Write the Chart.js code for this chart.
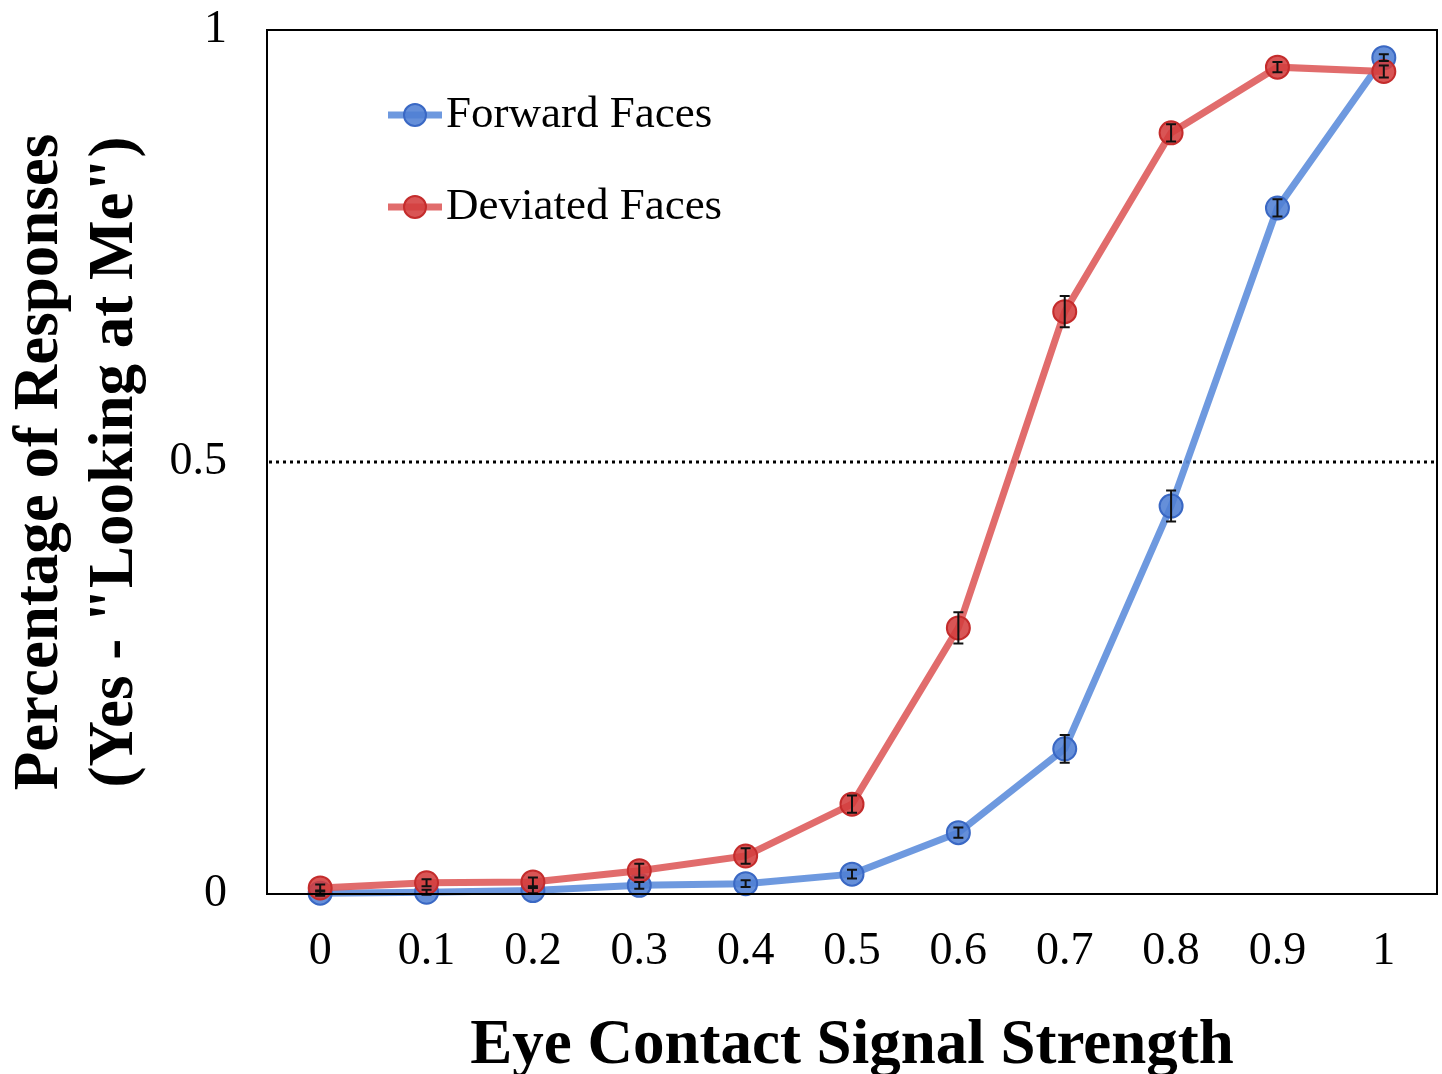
<!DOCTYPE html>
<html>
<head>
<meta charset="utf-8">
<script src="https://cdn.jsdelivr.net/npm/chart.js@4.4.1/dist/chart.umd.min.js"></script>
<style>
  html, body { margin: 0; padding: 0; background: #fff; }
  #wrap { width: 1442px; height: 1074px; }
</style>
</head>
<body>
<div id="wrap"><canvas id="gazeChart" width="1442" height="1074"></canvas></div>
<script>
// Eye contact signal strength levels (x axis)
const strengths = ['0', '0.1', '0.2', '0.3', '0.4', '0.5', '0.6', '0.7', '0.8', '0.9', '1'];

// Proportion of "looking at me" responses
const forwardFaces = [0.001, 0.002, 0.004, 0.010, 0.012, 0.023, 0.071, 0.168, 0.449, 0.794, 0.968];
const deviatedFaces = [0.007, 0.013, 0.014, 0.027, 0.044, 0.104, 0.308, 0.674, 0.881, 0.957, 0.952];

// Standard error for each point
const forwardErr = [0.003, 0.003, 0.003, 0.004, 0.004, 0.005, 0.006, 0.016, 0.018, 0.010, 0.004];
const deviatedErr = [0.004, 0.004, 0.005, 0.008, 0.009, 0.010, 0.018, 0.018, 0.010, 0.006, 0.007];

const yTicks = [0, 0.5, 1];
const threshold = 0.5;

const BLUE_LINE = 'rgba(98, 144, 220, 0.92)';
const BLUE_FILL = 'rgba(80, 128, 212, 0.88)';
const BLUE_EDGE = 'rgb(58, 104, 196)';
const RED_LINE = 'rgba(222, 96, 96, 0.92)';
const RED_FILL = 'rgba(212, 62, 62, 0.88)';
const RED_EDGE = 'rgb(196, 44, 44)';

const serif = '"Liberation Serif", "Times New Roman", serif';

// drop the extra label overflow padding so the plot box sits where the layout says
function noScalePadding(scale) {
    scale.paddingTop = 0;
    scale.paddingBottom = 0;
    scale.paddingLeft = 0;
    scale.paddingRight = 0;
}

// Frame box, dotted 0.5 reference line, error bars and the legend
const extras = {
    id: 'extras',
    beforeDatasetsDraw(chart) {
        const { ctx, chartArea: a, scales: { y } } = chart;
        const yy = Math.round(y.getPixelForValue(threshold));
        ctx.save();
        ctx.fillStyle = '#000';
        for (let px = a.left + 2; px < a.right - 2; px += 7) {
            ctx.fillRect(px, yy - 1.5, 3, 3);
        }
        ctx.restore();
    },
    afterDatasetsDraw(chart) {
        const { ctx, chartArea: a, scales: { x, y } } = chart;
        ctx.save();
        // error bars
        ctx.strokeStyle = '#111';
        ctx.lineWidth = 2;
        [[forwardFaces, forwardErr], [deviatedFaces, deviatedErr]].forEach(([vals, errs]) => {
            vals.forEach((v, i) => {
                const px = x.getPixelForValue(i);
                const top = y.getPixelForValue(v + errs[i]);
                const bot = y.getPixelForValue(v - errs[i]);
                ctx.beginPath();
                ctx.moveTo(px, top); ctx.lineTo(px, bot);
                ctx.moveTo(px - 5, top); ctx.lineTo(px + 5, top);
                ctx.moveTo(px - 5, bot); ctx.lineTo(px + 5, bot);
                ctx.stroke();
            });
        });
        // frame
        ctx.lineWidth = 2;
        ctx.strokeStyle = '#000';
        ctx.strokeRect(a.left, a.top, a.right - a.left, a.bottom - a.top);
        // legend
        const items = [
            { label: 'Forward Faces', line: BLUE_LINE, fill: BLUE_FILL, edge: BLUE_EDGE, y: 115 },
            { label: 'Deviated Faces', line: RED_LINE, fill: RED_FILL, edge: RED_EDGE, y: 207 }
        ];
        items.forEach(it => {
            ctx.strokeStyle = it.line;
            ctx.lineWidth = 7;
            ctx.beginPath();
            ctx.moveTo(388, it.y);
            ctx.lineTo(442, it.y);
            ctx.stroke();
            ctx.beginPath();
            ctx.arc(415, it.y, 11, 0, Math.PI * 2);
            ctx.fillStyle = it.fill;
            ctx.fill();
            ctx.lineWidth = 2;
            ctx.strokeStyle = it.edge;
            ctx.stroke();
            ctx.fillStyle = '#000';
            ctx.font = '45px ' + serif;
            ctx.textBaseline = 'middle';
            ctx.textAlign = 'left';
            ctx.fillText(it.label, 446, it.y);
        });
        ctx.restore();
    }
};

function createGazeChart(canvasId) {
    const ctx = document.getElementById(canvasId).getContext('2d');

    new Chart(ctx, {
        type: 'line',
        data: {
            labels: strengths,
            datasets: [{
                label: 'Forward Faces',
                data: forwardFaces,
                borderColor: BLUE_LINE,
                backgroundColor: BLUE_FILL,
                pointBorderColor: BLUE_EDGE,
                borderWidth: 7,
                pointRadius: 11.5,
                pointBorderWidth: 2,
                tension: 0,
                clip: false,
                order: 2
            }, {
                label: 'Deviated Faces',
                data: deviatedFaces,
                borderColor: RED_LINE,
                backgroundColor: RED_FILL,
                pointBorderColor: RED_EDGE,
                borderWidth: 7,
                pointRadius: 11.5,
                pointBorderWidth: 2,
                tension: 0,
                clip: false,
                order: 1
            }]
        },
        options: {
            responsive: false,
            animation: false,
            layout: { autoPadding: false, padding: { left: 0, right: 5, top: 30, bottom: 0 } },
            scales: {
                x: {
                    offset: true,
                    grid: { display: false, drawTicks: false },
                    border: { display: false },
                    ticks: {
                        color: '#000',
                        padding: 30,
                        font: { family: serif, size: 46 }
                    },
                    title: {
                        display: true,
                        text: 'Eye Contact Signal Strength',
                        color: '#000',
                        padding: { top: 0, bottom: 1 },
                        font: { family: serif, size: 63, weight: 'bold', lineHeight: 0.84 }
                    },
                    afterFit: scale => { scale.height = 180; noScalePadding(scale); }
                },
                y: {
                    min: 0,
                    max: 1,
                    afterBuildTicks: scale => { scale.ticks = yTicks.map(v => ({ value: v })); },
                    grid: { display: false, drawTicks: false },
                    border: { display: false },
                    ticks: {
                        color: '#000',
                        padding: 40,
                        font: { family: serif, size: 46 },
                        callback: v => String(v)
                    },
                    title: {
                        display: true,
                        text: ['Percentage of Responses', '(Yes - "Looking at Me")'],
                        color: '#000',
                        padding: { top: 3, bottom: 0 },
                        font: { family: serif, size: 63, weight: 'bold', lineHeight: 1.19 }
                    },
                    afterFit: scale => { scale.width = 267; noScalePadding(scale); }
                }
            },
            plugins: {
                legend: { display: false },
                tooltip: { enabled: false }
            }
        },
        plugins: [extras]
    });
}

createGazeChart('gazeChart');
</script>
</body>
</html>
